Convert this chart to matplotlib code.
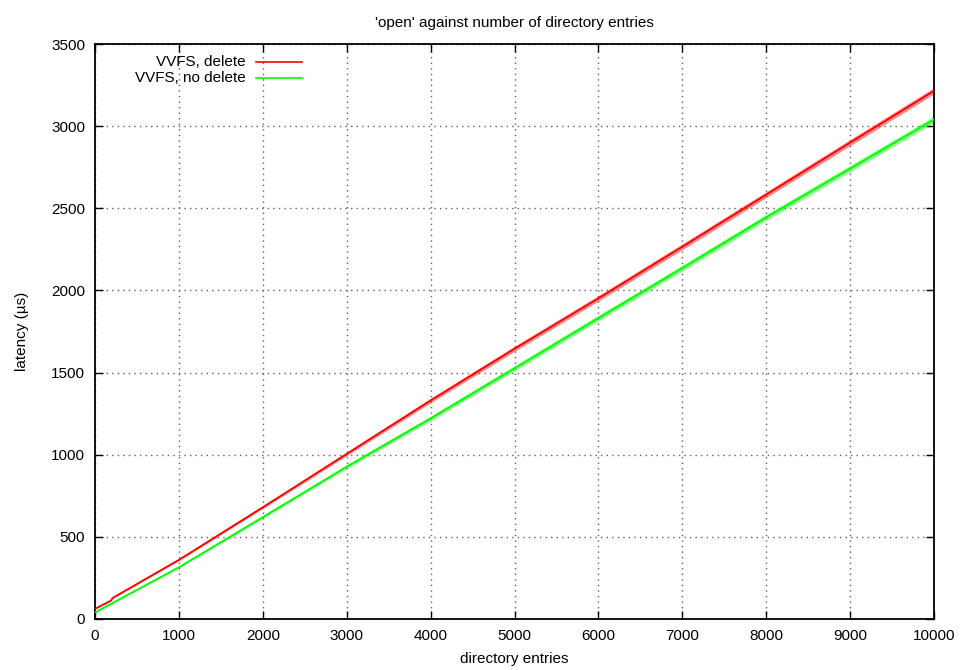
import matplotlib
matplotlib.use("Agg")
import matplotlib.pyplot as plt
from matplotlib.lines import Line2D

plt.rcParams['font.family'] = ['Liberation Sans', 'DejaVu Sans']

# Data
entries_red = [0, 190, 210, 1000, 2000, 3000, 4000, 5000, 6000, 7000, 8000, 9000, 10000]
latency_red = [62, 112, 128, 360, 680, 1005, 1330, 1645, 1952, 2266, 2583, 2900, 3215]
jitter_red = [2, 3, 3, 5, 8, 11, 14, 16, 17, 18, 18, 19, 19]

entries_green = [0, 1000, 2000, 3000, 4000, 5000, 6000, 7000, 8000, 9000, 10000]
latency_green = [40, 315, 620, 927, 1221, 1526, 1832, 2136, 2445, 2742, 3041]
jitter_green = [2, 5, 8, 11, 14, 16, 17, 18, 18, 19, 19]

labels = ["VVFS, delete", "VVFS, no delete"]
colors = ["#ff0000", "#00ff00"]
x_ticks = list(range(0, 10001, 1000))
y_ticks = list(range(0, 3501, 500))

FS = 11

fig = plt.figure(figsize=(9.62, 6.70), dpi=100)
ax = fig.add_axes([95/962, 1-619/670, 839/962, 575/670])

series = [(entries_red, latency_red, jitter_red), (entries_green, latency_green, jitter_green)]
for (xs, ys, js), c in zip(series, colors):
    lo = [y - j for y, j in zip(ys, js)]
    hi = [y + j for y, j in zip(ys, js)]
    ax.fill_between(xs, lo, hi, color=c, alpha=0.45, linewidth=0, zorder=2)
    ax.plot(xs, ys, color=c, linewidth=1.3, zorder=3)

ax.set_xlim(0, 10000)
ax.set_ylim(0, 3500)
ax.set_xticks(x_ticks)
ax.set_yticks(y_ticks)
ax.grid(True, color='#606060', linestyle=(0, (1, 3)), linewidth=1.0, zorder=1)
ax.tick_params(direction='in', length=6, width=1, top=True, right=True,
               labelsize=FS, pad=7)
for s in ax.spines.values():
    s.set_linewidth(1.3)

ax.set_title("'open' against number of directory entries", fontsize=FS, pad=12)
ax.set_xlabel("directory entries", fontsize=FS, labelpad=7)
ax.set_ylabel("latency (µs)", fontsize=FS, labelpad=16)

# legend, gnuplot style: right-aligned text followed by sample line
rows_y = [1 - (62 - 44) / 575, 1 - (78 - 44) / 575]
for lab, c, yy in zip(labels, colors, rows_y):
    ax.text((246 - 95) / 839, yy, lab, transform=ax.transAxes, ha='right',
            va='center', fontsize=FS)
    ax.add_line(Line2D([(256 - 95) / 839, (302 - 95) / 839], [yy, yy],
                       transform=ax.transAxes, color=c, linewidth=1.2))

fig.savefig("out.png", dpi=100)
